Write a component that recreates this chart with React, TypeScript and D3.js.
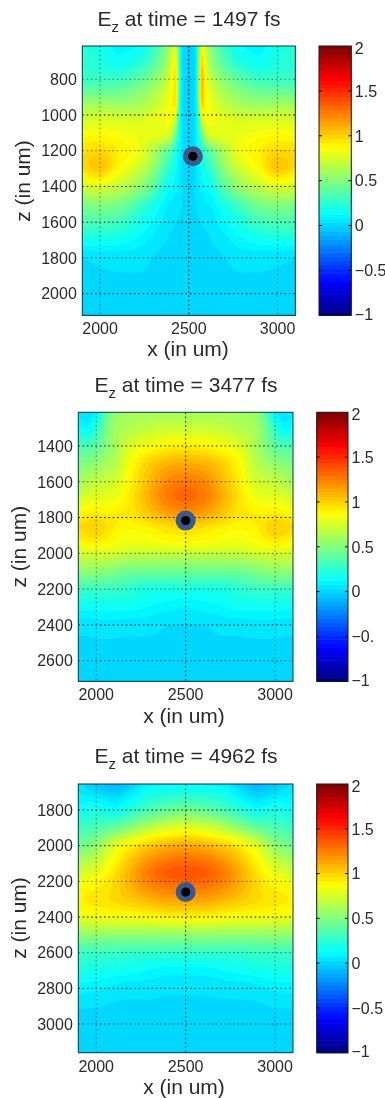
import React, { useMemo } from "react";
import * as d3 from "d3";

const xTicks = [2000, 2500, 3000];
const cbTicks = [2, 1.5, 1, 0.5, 0, -0.5, -1];

// ---------- Panel 1: t = 1497 fs
const p1Title = "1497";
const p1X = [1900,2000,2100,2200,2300,2380,2415,2428,2441,2460,2500,2540,2558,2570,2585,2620,2700,2800,2900,3000,3100];
const p1Z = [614,700,800,900,950,1000,1100,1200,1280,1340,1400,1500,1600,1700,1800,2000,2121];
const p1Ticks = [800,1000,1200,1400,1600,1800,2000];
const p1GridInk = [.45,.95,.5,.85,.85,.6,.8];
const p1Values = [
  [.22,.2,.1,.12,.28,.55,.75,.85,.4,.03,-.02,.03,.45,.95,.8,.55,.28,.12,.1,.2,.22],
  [.25,.22,.15,.2,.36,.6,.85,1.0,.45,.03,-.02,.03,.5,1.2,.85,.6,.36,.2,.15,.22,.25],
  [.3,.3,.3,.38,.52,.72,.9,1.1,.45,.05,-.02,.05,.5,1.3,.9,.72,.52,.38,.3,.3,.3],
  [.52,.5,.5,.55,.65,.8,.9,1.12,.42,.05,-.02,.05,.48,1.3,.9,.8,.65,.55,.5,.5,.52],
  [.62,.62,.6,.62,.7,.83,.92,1.0,.4,.05,-.02,.05,.44,1.15,.92,.83,.7,.62,.6,.62,.62],
  [.72,.72,.72,.72,.78,.85,.87,.8,.35,.05,-.02,.05,.38,.85,.87,.85,.78,.72,.72,.72,.72],
  [.85,.86,.84,.82,.82,.8,.62,.45,.25,.06,-.02,.06,.25,.45,.62,.8,.82,.82,.84,.86,.85],
  [.96,.98,.92,.85,.65,.42,.3,.2,.14,.05,-.02,.05,.14,.2,.3,.42,.65,.85,.92,.98,.96],
  [.98,1.06,.9,.78,.58,.3,.2,.15,.1,.04,-.02,.04,.1,.15,.2,.3,.58,.78,.9,1.06,.98],
  [.88,.96,.82,.68,.48,.22,.16,.12,.09,.04,-.01,.04,.09,.12,.16,.22,.48,.68,.82,.96,.88],
  [.76,.78,.7,.6,.4,.16,.12,.1,.08,.04,0,.04,.08,.1,.12,.16,.4,.6,.7,.78,.76],
  [.5,.52,.48,.35,.2,.08,.06,.05,.05,.03,0,.03,.05,.05,.06,.08,.2,.35,.48,.52,.5],
  [.35,.35,.32,.22,.12,.05,.04,.03,.03,.02,0,.02,.03,.03,.04,.05,.12,.22,.32,.35,.35],
  [.19,.18,.16,.12,.06,.03,.02,.02,.02,.01,0,.01,.02,.02,.02,.03,.06,.12,.16,.18,.19],
  [.03,.04,.05,.05,.03,.02,.02,.01,.01,.01,0,.01,.01,.01,.02,.02,.03,.05,.05,.04,.03],
  [.02,.02,.02,.02,.02,.02,.01,.01,.01,.01,.01,.01,.01,.01,.01,.02,.02,.02,.02,.02,.02],
  [.02,.02,.02,.02,.02,.02,.02,.02,.02,.02,.02,.02,.02,.02,.02,.02,.02,.02,.02,.02,.02],
];

// ---------- Panel 2: t = 3477 fs
const p2Title = "3477";
const p2X = [1900,1950,2000,2050,2100,2200,2300,2400,2500,2600,2700,2800,2900,2950,3000,3050,3100];
const p2Z = [1212,1300,1400,1500,1600,1670,1800,1850,1950,2000,2100,2200,2300,2400,2600,2715];
const p2Ticks = [1400,1600,1800,2000,2200,2400,2600];
const p2GridInk = [.85,.6,.95,.6,.5,.95,.6];
const p2Values = [
  [.08,0,.1,.35,.55,.6,.6,.6,.6,.6,.6,.6,.55,.35,.1,0,.1],
  [.15,.1,.25,.45,.6,.65,.7,.72,.72,.72,.7,.65,.6,.45,.25,.1,.15],
  [.35,.35,.4,.5,.6,.78,.85,.9,.92,.9,.85,.78,.6,.5,.4,.35,.35],
  [.5,.52,.55,.6,.65,.88,1.02,1.1,1.12,1.1,1.02,.88,.65,.6,.55,.52,.5],
  [.6,.65,.7,.72,.74,.92,1.08,1.22,1.27,1.22,1.08,.92,.74,.72,.7,.65,.6],
  [.7,.75,.78,.78,.8,.95,1.12,1.28,1.33,1.28,1.12,.95,.8,.78,.78,.75,.7],
  [.92,.94,.96,.94,.93,.94,1.02,1.1,1.15,1.1,1.02,.94,.93,.94,.96,.94,.92],
  [.97,1.01,1.03,.98,.92,.88,.92,.97,1.0,.97,.92,.88,.92,.98,1.03,1.01,.97],
  [.85,.88,.9,.88,.85,.82,.82,.85,.85,.85,.82,.82,.85,.88,.9,.88,.85],
  [.75,.75,.75,.75,.75,.7,.7,.7,.7,.7,.7,.7,.75,.75,.75,.75,.75],
  [.55,.55,.55,.52,.5,.45,.45,.45,.45,.45,.45,.45,.5,.52,.55,.55,.55],
  [.3,.3,.3,.3,.3,.25,.2,.2,.2,.2,.2,.25,.3,.3,.3,.3,.3],
  [.15,.15,.15,.15,.15,.15,.12,.1,.08,.1,.12,.15,.15,.15,.15,.15,.15],
  [.05,.05,.06,.06,.06,.05,.05,.03,.03,.03,.05,.05,.06,.06,.06,.05,.05],
  [.01,.01,.01,.01,.01,.01,.01,.01,.01,.01,.01,.01,.01,.01,.01,.01,.01],
  [.01,.01,.01,.01,.01,.01,.01,.01,.01,.01,.01,.01,.01,.01,.01,.01,.01],
];

// ---------- Panel 3: t = 4962 fs
const p3Title = "4962";
const p3X = [1900,2000,2100,2200,2300,2400,2500,2600,2700,2800,2900,3000,3100];
const p3Z = [1654,1800,1900,2000,2100,2150,2200,2300,2400,2500,2600,2700,2800,3000,3161];
const p3Ticks = [1800,2000,2200,2400,2600,2800,3000];
const p3GridInk = [.85,.85,.5,.95,.55,.85,.6];
const p3Values = [
  [.05,-.05,-.1,-.02,.1,.1,.1,.1,.1,-.02,-.1,-.05,.05],
  [.15,.2,.15,.25,.35,.42,.46,.42,.35,.25,.15,.2,.15],
  [.3,.35,.42,.55,.68,.76,.8,.76,.68,.55,.42,.35,.3],
  [.45,.55,.78,.93,1.03,1.1,1.13,1.1,1.03,.93,.78,.55,.45],
  [.65,.73,.9,1.08,1.22,1.3,1.33,1.3,1.22,1.08,.9,.73,.65],
  [.72,.8,.95,1.13,1.28,1.37,1.4,1.37,1.28,1.13,.95,.8,.72],
  [.82,.88,.98,1.12,1.25,1.32,1.33,1.32,1.25,1.12,.98,.88,.82],
  [.92,.95,.98,1.04,1.1,1.15,1.15,1.15,1.1,1.04,.98,.95,.92],
  [.8,.83,.84,.85,.87,.9,.9,.9,.87,.85,.84,.83,.8],
  [.55,.55,.55,.55,.55,.55,.55,.55,.55,.55,.55,.55,.55],
  [.3,.3,.3,.28,.28,.28,.28,.28,.28,.28,.3,.3,.3],
  [.2,.19,.17,.15,.12,.1,.1,.1,.12,.15,.17,.19,.2],
  [.1,.09,.06,.05,.05,.04,.04,.04,.05,.05,.06,.09,.1],
  [.01,.01,.01,.01,.01,.01,.01,.01,.01,.01,.01,.01,.01],
  [.01,.01,.01,.01,.01,.01,.01,.01,.01,.01,.01,.01,.01],
];

const sideInk = 0.45;
const midInk = 0.9;

const panels = [
  { t: p1Title, xs: p1X, zs: p1Z, v: p1Values, zt: p1Ticks, ink: p1GridInk, xd: [1900, 3100], zd: [614, 2121],
    box: { l: 82.3, r: 295.3, t: 46, b: 315.3 }, cb: { l: 319, r: 351.3 }, dot: [2523, 1231], blur: 1,
    title: { x: 189, y: 26 }, xLab: { x: 188, y: 356 }, xTickY: 334, yLab: { x: 30, y: 181 }, cbLabels: ["2","1.5","1","0.5","0","\u22120.5","\u22121"] },
  { t: p2Title, xs: p2X, zs: p2Z, v: p2Values, zt: p2Ticks, ink: p2GridInk, xd: [1900, 3100], zd: [1212, 2715],
    box: { l: 78.3, r: 293, t: 412.3, b: 681.3 }, cb: { l: 316.7, r: 348 }, dot: [2500, 1817], blur: 3,
    title: { x: 186, y: 392 }, xLab: { x: 184, y: 723 }, xTickY: 699.5, yLab: { x: 26, y: 546.7 }, cbLabels: ["2","1.5","1","0.5","0","\u22120.","\u22121"] },
  { t: p3Title, xs: p3X, zs: p3Z, v: p3Values, zt: p3Ticks, ink: p3GridInk, xd: [1900, 3100], zd: [1654, 3161],
    box: { l: 78.3, r: 293, t: 784, b: 1052.7 }, cb: { l: 316.7, r: 348 }, dot: [2500, 2260], blur: 3,
    title: { x: 186, y: 763 }, xLab: { x: 184, y: 1094 }, xTickY: 1071.5, yLab: { x: 26, y: 918 }, cbLabels: ["2","1.5","1","0.5","0","\u22120.5","\u22121"] },
];

const FONT = "'Liberation Sans', Arial, sans-serif";
const TEXT = "#2b2b2b";
const LEVELS = 64;

function jet(t: number) {
  const c = (v: number) => Math.round(255 * Math.max(0, Math.min(1, v)));
  return `rgb(${c(1.5 - Math.abs(4 * t - 3))},${c(1.5 - Math.abs(4 * t - 2))},${c(1.5 - Math.abs(4 * t - 1))})`;
}
const vToT = d3.scaleLinear().domain([-1, 2]).range([0, 1]);

// Monotone cubic read-out between the values (no overshoot).
function smoothRead(knots: number[], vals: number[], q: number) {
  const n = knots.length;
  const i = Math.max(0, Math.min(n - 2, d3.bisectRight(knots, q) - 1));
  const h = knots[i + 1] - knots[i];
  const sec = (k: number) => (vals[k + 1] - vals[k]) / (knots[k + 1] - knots[k]);
  const slope = (k: number) => {
    if (k <= 0) return sec(0);
    if (k >= n - 1) return sec(n - 2);
    const a = sec(k - 1), b = sec(k);
    if (a * b <= 0) return 0;
    const ha = knots[k] - knots[k - 1], hb = knots[k + 1] - knots[k];
    return (3 * (ha + hb)) / ((2 * hb + ha) / a + (hb + 2 * ha) / b);
  };
  const s = Math.max(0, Math.min(1, (q - knots[i]) / h));
  const m0 = slope(i) * h, m1 = slope(i + 1) * h;
  return (
    (2 * s ** 3 - 3 * s ** 2 + 1) * vals[i] + (s ** 3 - 2 * s ** 2 + s) * m0 +
    (-2 * s ** 3 + 3 * s ** 2) * vals[i + 1] + (s ** 3 - s ** 2) * m1
  );
}

function Panel({ p, idx }: { p: (typeof panels)[number]; idx: number }) {
  const { box, cb } = p;
  const x = d3.scaleLinear().domain(p.xd).range([box.l, box.r]);
  const z = d3.scaleLinear().domain(p.zd).range([box.t, box.b]);
  const cbY = d3.scaleLinear().domain([-1, 2]).range([box.b, box.t]);

  const bands = useMemo(() => {
    const w = Math.ceil(box.r - box.l) + 4;
    const h = Math.ceil(box.b - box.t) + 4;
    const data = new Float64Array(w * h);
    const rows = p.v.map((row) => d3.range(w).map((i) => smoothRead(p.xs, row, x.invert(box.l + i - 2 + 0.5))));
    for (let i = 0; i < w; i++) {
      const col = rows.map((r) => r[i]);
      for (let j = 0; j < h; j++) data[j * w + i] = smoothRead(p.zs, col, z.invert(box.t + j - 2 + 0.5));
    }
    d3.blur2({ data, width: w, height: h }, p.blur);
    const thresholds = d3.range(0, LEVELS).map((i) => -1 + (3 * i) / LEVELS);
    const gen = d3.contours().size([w, h]).smooth(true).thresholds(thresholds);
    const path = d3.geoPath();
    return gen(Array.from(data)).map((c, i) => ({ d: path(c) || "", fill: jet((i + 0.5) / LEVELS) }));
  }, []);

  const clipId = `clip${idx}`;
  return (
    <g>
      <clipPath id={clipId}>
        <rect x={box.l} y={box.t} width={box.r - box.l} height={box.b - box.t} />
      </clipPath>
      <g clipPath={`url(#${clipId})`}>
        <rect x={box.l} y={box.t} width={box.r - box.l} height={box.b - box.t} fill={jet(0.33)} />
        <g transform={`translate(${box.l - 2},${box.t - 2})`}>
          {bands.map((b, i) => b.d && <path key={i} d={b.d} fill={b.fill} />)}
        </g>
      </g>
      {/* grid */}
      {xTicks.map((t) => (
        <line key={t} x1={x(t)} x2={x(t)} y1={box.t} y2={box.b} stroke="#000" strokeOpacity={t === 2500 ? midInk : sideInk} strokeWidth={1} strokeDasharray="1.6 2.7" />
      ))}
      {p.zt.map((t, i) => (
        <line key={t} x1={box.l} x2={box.r} y1={z(t)} y2={z(t)} stroke="#000" strokeOpacity={p.ink[i]} strokeWidth={1} strokeDasharray="1.6 2.7" />
      ))}
      <rect x={box.l} y={box.t} width={box.r - box.l} height={box.b - box.t} fill="none" stroke="#0b3a40" strokeWidth={1} />
      {/* tick labels */}
      {xTicks.map((t) => (
        <text key={t} x={x(t)} y={p.xTickY} textAnchor="middle" fontSize={16} fill={TEXT}>{t}</text>
      ))}
      {p.zt.map((t) => (
        <text key={t} x={box.l - 5.5} y={z(t)} dy="0.36em" textAnchor="end" fontSize={16} fill={TEXT}>{t}</text>
      ))}
      {/* axis labels and title */}
      <text x={p.xLab.x} y={p.xLab.y} textAnchor="middle" fontSize={21} fill={TEXT}>x (in um)</text>
      <text transform={`translate(${p.yLab.x},${p.yLab.y}) rotate(-90)`} textAnchor="middle" fontSize={21} fill={TEXT}>z (in um)</text>
      <text x={p.title.x} y={p.title.y} textAnchor="middle" fontSize={21} fill={TEXT}>
        E<tspan fontSize={15} dy={6}>z</tspan><tspan dy={-6}> at time = {p.t} fs</tspan>
      </text>
      {/* marker */}
      <circle cx={x(p.dot[0])} cy={z(p.dot[1])} r={10} fill="#3b5a8a" />
      <circle cx={x(p.dot[0])} cy={z(p.dot[1])} r={4.6} fill="#000" />
      {/* colourbar */}
      {d3.range(LEVELS).map((i) => {
        const v0 = vToT.invert(i / LEVELS);
        const v1 = vToT.invert((i + 1) / LEVELS);
        return (
          <rect key={i} x={cb.l} width={cb.r - cb.l} y={cbY(v1)} height={cbY(v0) - cbY(v1) + 0.6} fill={jet((i + 0.5) / LEVELS)} />
        );
      })}
      <rect x={cb.l} y={box.t} width={cb.r - cb.l} height={box.b - box.t} fill="none" stroke="#111" strokeWidth={1} />
      {cbTicks.map((t, i) => (
        <g key={t}>
          {t !== 2 && t !== -1 && (
            <>
              <line x1={cb.l} x2={cb.l + 3} y1={cbY(t)} y2={cbY(t)} stroke="#111" />
              <line x1={cb.r - 3} x2={cb.r} y1={cbY(t)} y2={cbY(t)} stroke="#111" />
            </>
          )}
          <text x={cb.r + 3.5} y={cbY(t) + (t === 2 ? 2 : t === -1 ? -1 : 0)} dy="0.36em" fontSize={16} fill={TEXT}>{p.cbLabels[i]}</text>
        </g>
      ))}
    </g>
  );
}

export default function App() {
  return (
    <svg width={385} height={1098} viewBox="0 0 385 1098" fontFamily={FONT}
      style={{ position: "absolute", left: 0, top: 0, background: "#fff" }}>
      <defs>
        <filter id="soft" x="0" y="0" width="385" height="1098" filterUnits="userSpaceOnUse">
          <feGaussianBlur stdDeviation="0.45" />
        </filter>
      </defs>
      <rect width={385} height={1098} fill="#fff" />
      <g filter="url(#soft)">
        {panels.map((p, i) => <Panel key={i} p={p} idx={i} />)}
      </g>
    </svg>
  );
}
